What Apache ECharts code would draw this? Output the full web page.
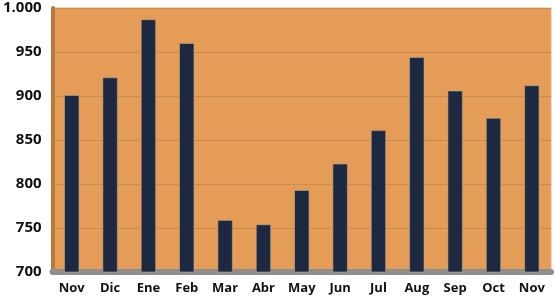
<!DOCTYPE html>
<html><head><meta charset="utf-8">
<script src="https://cdn.jsdelivr.net/npm/echarts@6/dist/echarts.min.js"></script>
<style>html,body{margin:0;padding:0;background:#fff}#c{width:555px;height:296px}</style>
</head><body><div id="c"></div>
<script>
const categories = ['Nov','Dic','Ene','Feb','Mar','Abr','May','Jun','Jul','Aug','Sep','Oct','Nov'];
const values = [901, 921, 987, 960, 759, 754, 793, 823, 861, 944, 906, 875, 912];
const yTicks = [700, 750, 800, 850, 900, 950, 1000];

const chart = echarts.init(document.getElementById('c'));
chart.setOption({
  backgroundColor: '#ffffff',
  animation: false,
  grid: {left: 50, right: 4, top: 8, bottom: 24, show: true, backgroundColor: '#E49C56', borderColor: '#D9B48C', borderWidth: 1},
  xAxis: {
    type: 'category', data: categories,
    axisLine: {show: true, lineStyle: {color: '#8E8E8E', width: 6}},
    axisTick: {show: false},
    axisLabel: {color: '#111', fontFamily: 'Open Sans', fontWeight: 'bold', fontSize: 13, margin: 10}
  },
  yAxis: {
    type: 'value', min: yTicks[0], max: yTicks[yTicks.length-1], interval: 50,
    axisLine: {show: true, lineStyle: {color: '#B9783C', width: 4}},
    axisTick: {show: false},
    splitLine: {lineStyle: {color: '#CB8C4E', width: 1}},
    axisLabel: {color: '#111', fontFamily: 'Open Sans', fontWeight: 'bold', fontSize: 15, margin: 11,
      formatter: v => v >= 1000 ? (Math.floor(v/1000) + '.' + String(v%1000).padStart(3,'0')) : String(v)}
  },
  series: [{
    type: 'bar', data: values, barWidth: 15,
    itemStyle: {color: '#1D2841', borderColor: '#B9A58E', borderWidth: 0.6}
  }]
});
</script></body></html>
